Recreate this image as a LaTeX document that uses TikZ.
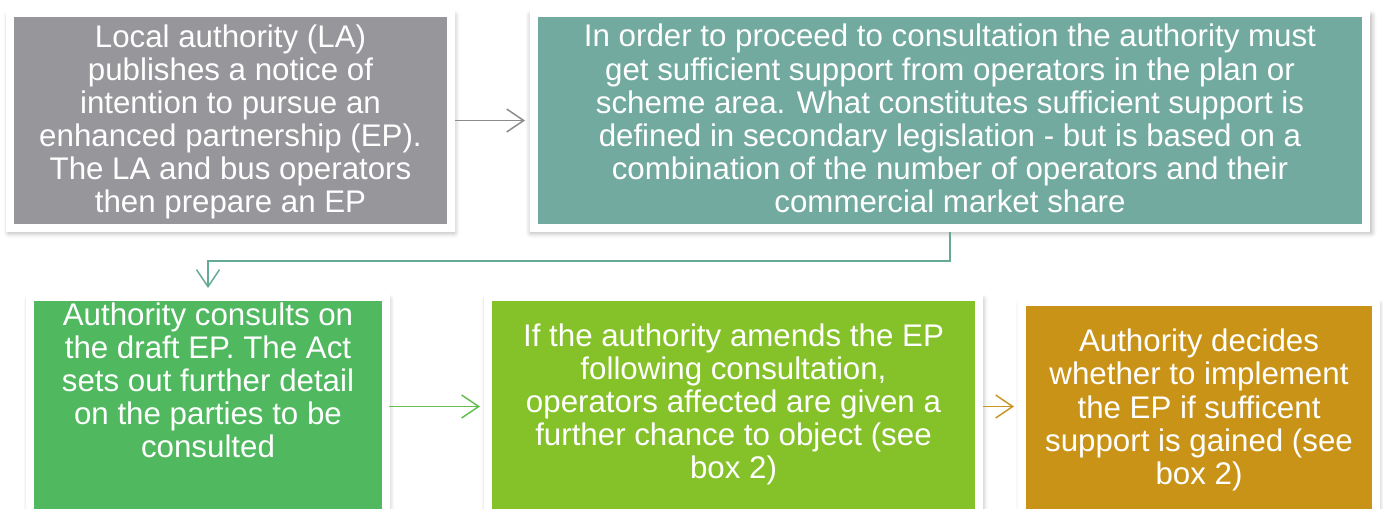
\documentclass[tikz,border=0pt]{standalone}
\usepackage{fontspec}
\setmainfont{Liberation Sans}
\usetikzlibrary{positioning}
\usetikzlibrary{arrows.meta}
\usetikzlibrary{shadows.blur}
\definecolor{boxgray}{RGB}{150,150,155}
\definecolor{boxteal}{RGB}{114,170,160}
\definecolor{boxgreen}{RGB}{80,184,95}
\definecolor{boxlime}{RGB}{133,194,42}
\definecolor{boxgold}{RGB}{201,147,23}
\definecolor{arrowgray}{RGB}{140,140,140}
\definecolor{arrowteal}{RGB}{100,170,150}
\definecolor{arrowgreen}{RGB}{100,190,80}
\definecolor{arrowgold}{RGB}{200,150,40}
% text of a box, raised by #1, set #2 wide
\newcommand\steptext[3][0cm]{\raisebox{#1}[0pt][0pt]{\parbox[c]{#2}{\centering #3}}}

\begin{document}
\begin{tikzpicture}[
node distance=1.66cm,
stepbox/.style={
  rectangle,
  draw=white,
  line width=0.16cm,
  inner sep=0pt,
  outer sep=0pt,
  text=white,
  font=\fontsize{17.8}{18.8}\selectfont,
  blur shadow={shadow xshift=0.6pt, shadow yshift=-2pt, shadow scale=1.01, shadow blur radius=3pt, shadow opacity=35}},
flow/.style={
  line width=0.03cm,
  -{Straight Barb[length=0.34cm, width=0.46cm]}}
]
\useasboundingbox (0,0) rectangle (27.66,-10.16);
\node[stepbox, fill=boxgray, minimum width=8.82cm, minimum height=4.30cm] (notice) at (4.61,-2.41)
  {\steptext[-0.18cm]{8cm}{Local authority (LA)\\publishes a notice of\\intention to pursue an\\enhanced partnership (EP).\\The LA and bus operators\\then prepare an EP}};
\node[stepbox, fill=boxteal, minimum width=16.64cm, minimum height=4.30cm, right=of notice] (support)
  {\steptext[-0.11cm]{16cm}{In order to proceed to consultation the authority must\\get sufficient support from operators in the plan or\\scheme area. What constitutes sufficient support is\\defined in secondary legislation - but is based on a\\combination of the number of operators and their\\commercial market share}};
\node[stepbox, fill=boxgreen, minimum width=7.12cm, minimum height=4.38cm] (consult) at (4.16,-8.13)
  {\steptext[0.37cm]{7cm}{Authority consults on\\the draft EP. The Act\\sets out further detail\\on the parties to be\\consulted}};
\node[stepbox, fill=boxlime, minimum width=9.82cm, minimum height=4.38cm, right=2.04cm of consult] (amend)
  {\steptext[-0.11cm]{9.6cm}{If the authority amends the EP\\following consultation,\\operators affected are given a\\further chance to object (see\\box 2)}};
\node[stepbox, fill=boxgold, minimum width=7.08cm, minimum height=4.28cm, right=0.86cm of amend, yshift=-0.05cm] (decide)
  {\steptext[-0.17cm]{7cm}{Authority decides\\whether to implement\\the EP if sufficent\\support is gained (see\\box 2)}};

\draw[flow, draw=arrowgray, shorten <=0.08cm, shorten >=0.18cm] (notice) -- (support);
\draw[flow, draw=arrowteal, shorten <=0.08cm, shorten >=0.18cm] (support.south) -- ++(0,-0.66) -| (consult.north);
\draw[flow, draw=arrowgreen, shorten <=0.06cm, shorten >=0.16cm] (consult) -- (amend);
\draw[flow, draw=arrowgold, shorten <=0.08cm, shorten >=0.16cm] (amend) -- (amend -| decide.west);
\end{tikzpicture}
\end{document}
